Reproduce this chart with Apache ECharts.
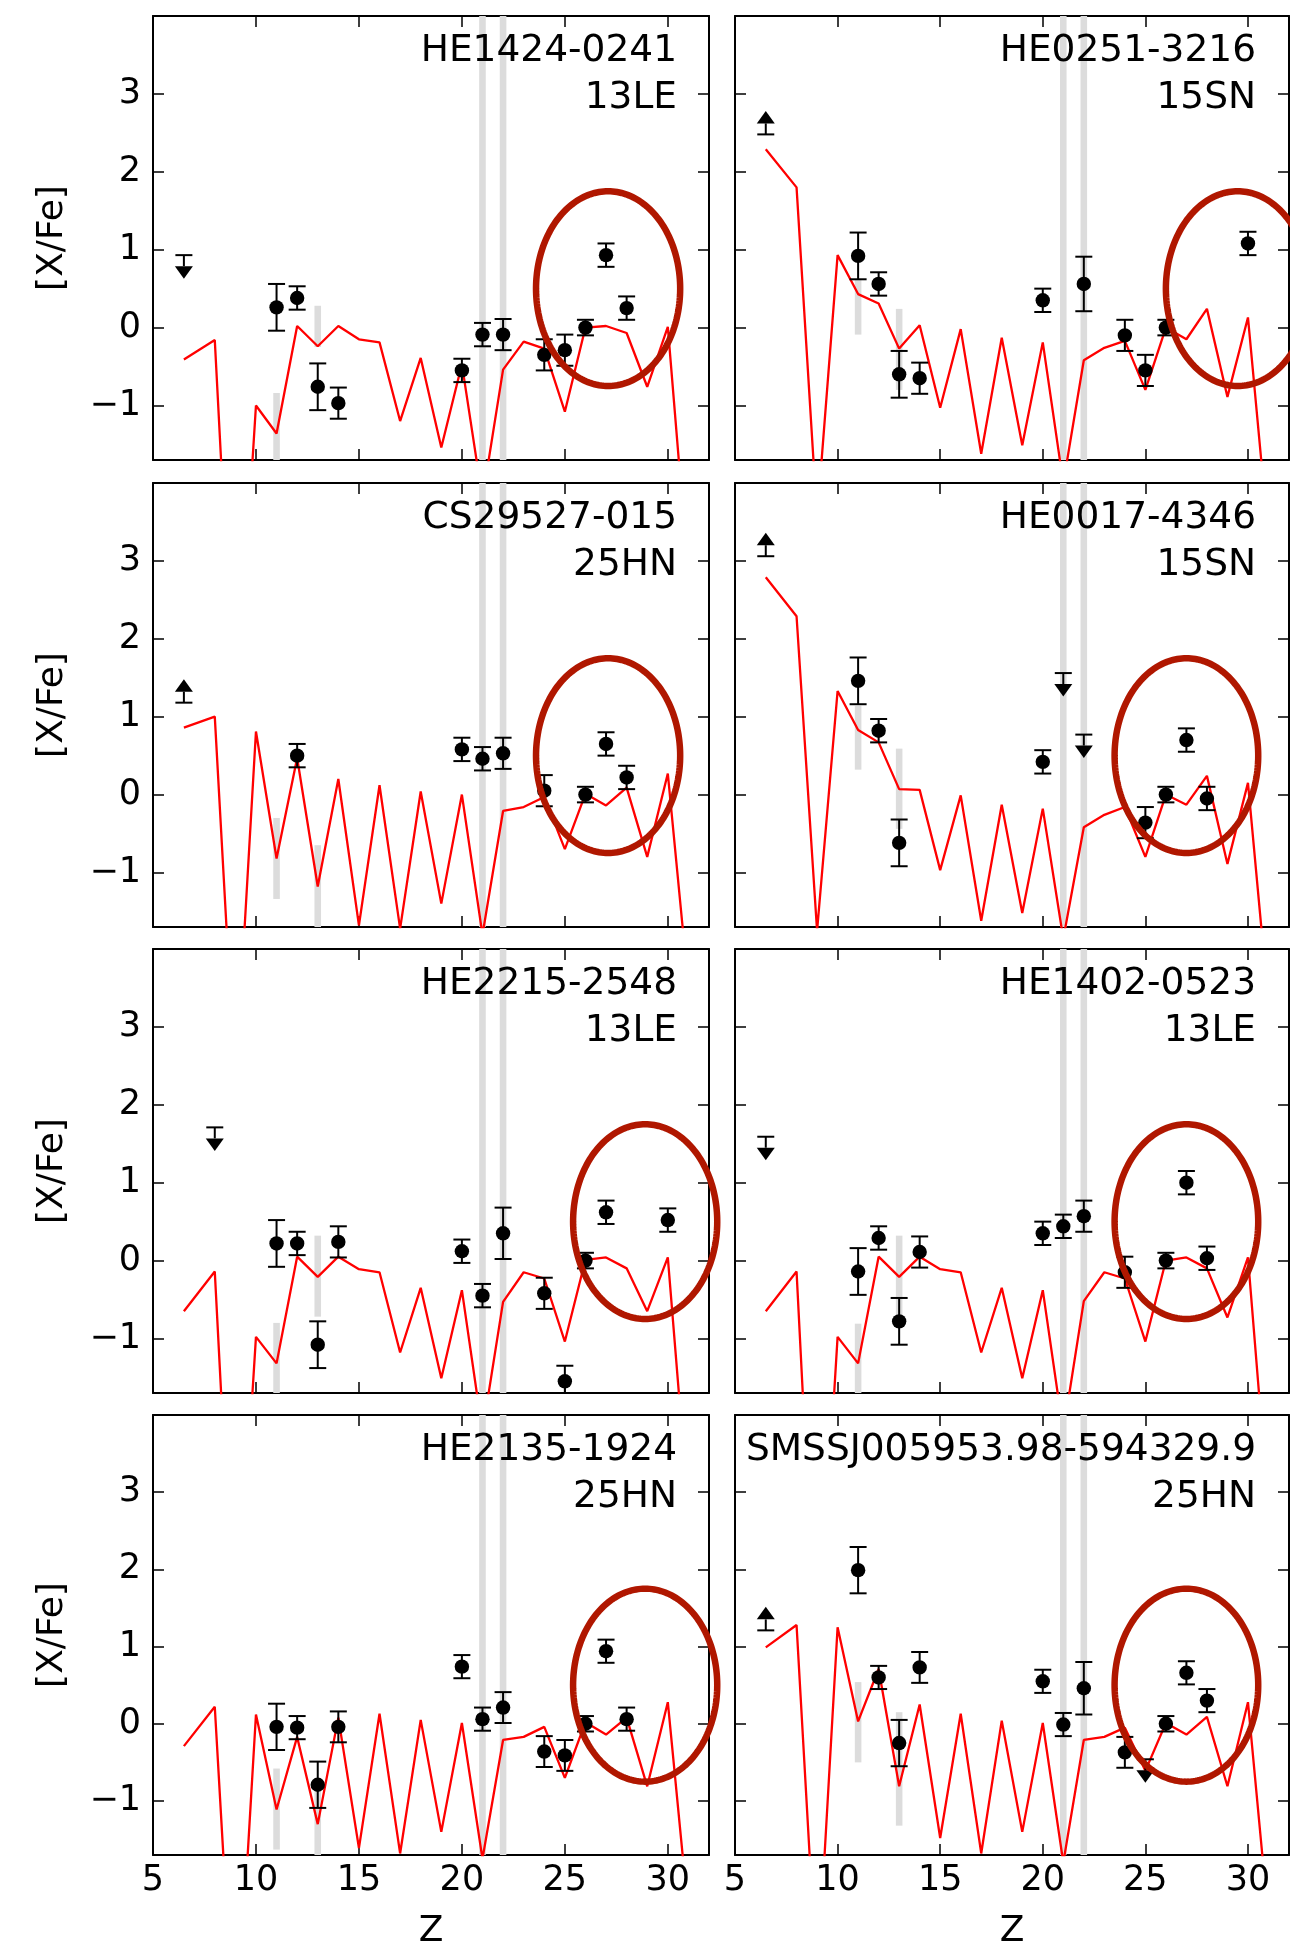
<!DOCTYPE html>
<html><head><meta charset="utf-8">
<script src="https://cdn.jsdelivr.net/npm/echarts@6/dist/echarts.min.js"></script>
<style>html,body{margin:0;padding:0;background:#fff}#c{width:1290px;height:1951px}</style>
</head><body><div id="c"></div>
<script>
// ---------- DATA ----------
const xTicks = [10, 15, 20, 25, 30];
const xTickLabels = [5, 10, 15, 20, 25, 30];
const yTicks = [-1, 0, 1, 2, 3];
const fullBandZ = [21, 22];
const modelZ = [6.5, 8, 9, 10, 11, 12, 13, 14, 15, 16, 17, 18, 19, 20, 21, 22, 23, 24, 25, 26, 27, 28, 29, 30, 31];

const starNames = ['HE1424-0241', 'HE0251-3216', 'CS29527-015', 'HE0017-4346', 'HE2215-2548', 'HE1402-0523', 'HE2135-1924', 'SMSSJ005953.98-594329.9'];
const modelNames = ['13LE', '15SN', '25HN', '15SN', '13LE', '13LE', '25HN', '25HN'];

const model1 = [-0.41, -0.16, -5.2, -1.0, -1.36, 0.02, -0.24, 0.02, -0.15, -0.19, -1.2, -0.39, -1.54, -0.47, -2.2, -0.54, -0.18, -0.27, -1.08, 0.0, 0.02, -0.07, -0.76, 0.01, -3.2];
const model2 = [2.29, 1.80, -2.45, 0.93, 0.43, 0.31, -0.27, 0.03, -1.03, -0.02, -1.62, -0.13, -1.51, -0.19, -2.0, -0.42, -0.26, -0.17, -0.80, 0.0, -0.15, 0.24, -0.89, 0.13, -2.7];
const model3 = [0.86, 1.00, -3.75, 0.81, -0.82, 0.47, -1.18, 0.20, -1.68, 0.12, -1.72, 0.04, -1.40, 0.0, -1.8, -0.21, -0.16, -0.03, -0.70, 0.01, -0.14, 0.09, -0.80, 0.27, -2.47];
const model4 = [2.79, 2.29, -1.75, 1.33, 0.83, 0.67, 0.07, 0.06, -0.97, -0.01, -1.62, -0.13, -1.52, -0.18, -1.85, -0.42, -0.26, -0.16, -0.80, 0.0, -0.13, 0.24, -0.89, 0.15, -2.7];
const model5 = [-0.65, -0.14, -5.2, -0.98, -1.32, 0.05, -0.21, 0.05, -0.11, -0.15, -1.18, -0.35, -1.51, -0.38, -2.2, -0.53, -0.15, -0.23, -1.04, 0.01, 0.04, -0.10, -0.65, 0.04, -3.2];
const model6 = [-0.65, -0.14, -5.3, -0.98, -1.32, 0.05, -0.21, 0.05, -0.11, -0.15, -1.18, -0.35, -1.51, -0.38, -2.2, -0.52, -0.15, -0.23, -1.04, 0.0, 0.04, -0.10, -0.73, 0.04, -3.2];
const model7 = [-0.29, 0.22, -4.4, 0.12, -1.11, -0.17, -1.30, 0.08, -1.61, 0.13, -1.68, 0.05, -1.40, 0.01, -1.75, -0.21, -0.17, -0.04, -0.70, 0.02, -0.14, 0.08, -0.81, 0.28, -2.47];
const model8 = [0.99, 1.28, -3.4, 1.25, 0.03, 0.71, -0.81, 0.25, -1.48, 0.13, -1.68, 0.04, -1.40, 0.01, -1.8, -0.21, -0.17, -0.05, -0.61, 0.01, -0.14, 0.09, -0.81, 0.28, -2.55];

// observations: [Z, [X/Fe], error]
const obs1 = [[11,0.26,0.3],[12,0.38,0.15],[13,-0.76,0.3],[14,-0.97,0.2],[20,-0.55,0.15],[21,-0.09,0.15],[22,-0.09,0.2],[24,-0.35,0.2],[25,-0.29,0.2],[26,0,0.1],[27,0.93,0.15],[28,0.25,0.15]];
const obs2 = [[11,0.92,0.3],[12,0.56,0.15],[13,-0.60,0.3],[14,-0.65,0.2],[20,0.35,0.15],[22,0.56,0.35],[24,-0.10,0.2],[25,-0.55,0.2],[26,0,0.1],[30,1.08,0.15]];
const obs3 = [[12,0.50,0.15],[20,0.58,0.15],[21,0.46,0.15],[22,0.53,0.2],[24,0.05,0.2],[26,0,0.1],[27,0.65,0.15],[28,0.22,0.15]];
const obs4 = [[11,1.46,0.3],[12,0.82,0.15],[13,-0.62,0.3],[20,0.42,0.15],[25,-0.36,0.2],[26,0,0.1],[27,0.70,0.15],[28,-0.05,0.15]];
const obs5 = [[11,0.22,0.3],[12,0.22,0.15],[13,-1.08,0.3],[14,0.24,0.2],[20,0.12,0.15],[21,-0.45,0.15],[22,0.35,0.33],[24,-0.42,0.2],[25,-1.55,0.2],[26,0,0.1],[27,0.62,0.15],[30,0.52,0.15]];
const obs6 = [[11,-0.14,0.3],[12,0.29,0.15],[13,-0.78,0.3],[14,0.11,0.2],[20,0.35,0.15],[21,0.44,0.15],[22,0.57,0.2],[24,-0.15,0.2],[26,0,0.1],[27,1.0,0.15],[28,0.03,0.15]];
const obs7 = [[11,-0.04,0.3],[12,-0.05,0.15],[13,-0.79,0.3],[14,-0.04,0.2],[20,0.74,0.15],[21,0.06,0.15],[22,0.21,0.2],[24,-0.36,0.2],[25,-0.41,0.2],[26,0,0.1],[27,0.94,0.15],[28,0.06,0.15]];
const obs8 = [[11,1.99,0.3],[12,0.60,0.15],[13,-0.25,0.3],[14,0.73,0.2],[20,0.55,0.15],[21,-0.01,0.15],[22,0.46,0.34],[24,-0.37,0.2],[26,0,0.1],[27,0.66,0.15],[28,0.30,0.15]];

// limits: [Z, value, direction (+1 lower limit / arrow up, -1 upper limit / arrow down)]
const lim1 = [[6.5,0.93,-1]];
const lim2 = [[6.5,2.48,1]];
const lim3 = [[6.5,1.18,1]];
const lim4 = [[6.5,3.06,1],[21,1.56,-1],[22,0.77,-1]];
const lim5 = [[8,1.71,-1]];
const lim6 = [[6.5,1.59,-1]];
const lim7 = [];
const lim8 = [[6.5,1.21,1],[25,-0.46,-1]];

// model ranges (grey bars): [Z, low, high]
const range1 = [[11,-2,-0.84],[13,-0.25,0.28]];
const range2 = [[11,-0.09,0.61],[13,-0.80,0.24]];
const range3 = [[11,-1.34,-0.30],[13,-2,-0.65]];
const range4 = [[11,0.32,1.14],[13,-0.44,0.59]];
const range5 = [[11,-2,-0.80],[13,-0.72,0.32]];
const range6 = [[11,-2,-0.81],[13,-0.72,0.32]];
const range7 = [[11,-1.63,-0.58],[13,-2,-0.75]];
const range8 = [[11,-0.50,0.54],[13,-1.32,0.15]];

// highlight ellipses: [centre Z, centre [X/Fe], half-width in Z, half-height in dex]
const ellipseCZ = [27.1, 29.5, 27.1, 27.0, 28.9, 27.0, 28.9, 27.0];
const ellipseCY = [0.5, 0.5, 0.5, 0.5, 0.5, 0.5, 0.5, 0.5];
const ellipseRX = 3.5;
const ellipseRY = 1.25;

// ---------- CHART ----------
const models = [model1, model2, model3, model4, model5, model6, model7, model8];
const obsAll = [obs1, obs2, obs3, obs4, obs5, obs6, obs7, obs8];
const limAll = [lim1, lim2, lim3, lim4, lim5, lim6, lim7, lim8];
const rangeAll = [range1, range2, range3, range4, range5, range6, range7, range8];

const FONT = 'DejaVu Sans';
const X_MIN = 5, X_MAX = 32, Y_MIN = -1.7, Y_MAX = 4;
const gridLeft = [153, 735];
const gridWidth = [556, 554];
const gridTop = [16, 483, 949, 1415];
const gridHeight = 444;
const BAND_HALF = 0.16;

const chart = echarts.init(document.getElementById('c'), null, {renderer: 'canvas'});

const grids = [], xAxes = [], yAxes = [], series = [], labels = [];
const minusFmt = v => (v < 0 ? '\u2212' + Math.abs(v) : String(v));

for (let i = 0; i < 8; i++) {
  const row = Math.floor(i / 2), col = i % 2;
  grids.push({left: gridLeft[col], top: gridTop[row], width: gridWidth[col], height: gridHeight, containLabel: false});
  const lineSt = {color: '#000', width: 2};
  const tickSt = {color: '#000', width: 1.5};
  const bottomRow = row === 3;
  xAxes.push({
    gridIndex: i, type: 'value', min: X_MIN, max: X_MAX, position: 'bottom',
    axisLine: {show: true, onZero: false, lineStyle: lineSt},
    axisTick: {show: true, inside: true, length: 11, lineStyle: tickSt, customValues: xTicks},
    axisLabel: {show: bottomRow, customValues: xTickLabels, fontSize: 35, fontFamily: FONT, color: '#000', margin: 8},
    splitLine: {show: false},
    name: bottomRow ? 'Z' : '', nameLocation: 'middle', nameGap: 59,
    nameTextStyle: {fontSize: 36, fontFamily: FONT, color: '#000'}
  });
  xAxes.push({
    gridIndex: i, type: 'value', min: X_MIN, max: X_MAX, position: 'top',
    axisLine: {show: true, onZero: false, lineStyle: lineSt},
    axisTick: {show: true, inside: true, length: 11, lineStyle: tickSt, customValues: xTicks},
    axisLabel: {show: false}, splitLine: {show: false}
  });
  const leftCol = col === 0;
  yAxes.push({
    gridIndex: i, type: 'value', min: Y_MIN, max: Y_MAX, position: 'left',
    axisLine: {show: true, onZero: false, lineStyle: lineSt},
    axisTick: {show: true, inside: true, length: 11, lineStyle: tickSt, customValues: yTicks},
    axisLabel: {show: leftCol, customValues: yTicks, formatter: minusFmt, fontSize: 35, fontFamily: FONT, color: '#000', margin: 12},
    splitLine: {show: false},
    name: leftCol ? '[X/Fe]' : '', nameLocation: 'middle', nameGap: 82, nameRotate: 90,
    nameTextStyle: {fontSize: 36, fontFamily: FONT, color: '#000'}
  });
  yAxes.push({
    gridIndex: i, type: 'value', min: Y_MIN, max: Y_MAX, position: 'right',
    axisLine: {show: true, onZero: false, lineStyle: lineSt},
    axisTick: {show: true, inside: true, length: 11, lineStyle: tickSt, customValues: yTicks},
    axisLabel: {show: false}, splitLine: {show: false}
  });

  const xi = 2 * i, yi = 2 * i;

  // full-height grey bands
  series.push({
    type: 'custom', xAxisIndex: xi, yAxisIndex: yi, clip: true, z: 1, silent: true,
    data: fullBandZ.map(z => [z]),
    renderItem(params, api) {
      const z = api.value(0);
      const p1 = api.coord([z - BAND_HALF, Y_MAX]);
      const p2 = api.coord([z + BAND_HALF, Y_MIN]);
      return {type: 'rect', shape: {x: p1[0], y: p1[1], width: p2[0] - p1[0], height: p2[1] - p1[1]}, style: {fill: '#dcdcdc'}};
    }
  });
  // model range bars
  series.push({
    type: 'custom', xAxisIndex: xi, yAxisIndex: yi, clip: true, z: 1, silent: true,
    data: rangeAll[i],
    renderItem(params, api) {
      const z = api.value(0), lo = api.value(1), hi = api.value(2);
      const p1 = api.coord([z - BAND_HALF, hi]);
      const p2 = api.coord([z + BAND_HALF, lo]);
      return {type: 'rect', shape: {x: p1[0], y: p1[1], width: p2[0] - p1[0], height: p2[1] - p1[1]}, style: {fill: '#dcdcdc'}};
    }
  });
  // model line
  series.push({
    type: 'line', xAxisIndex: xi, yAxisIndex: yi, z: 2, clip: true, silent: true,
    data: modelZ.map((z, k) => [z, models[i][k]]),
    symbol: 'none', lineStyle: {color: '#ff0000', width: 2.3}
  });
  // observations with error bars
  series.push({
    type: 'custom', xAxisIndex: xi, yAxisIndex: yi, clip: true, z: 3, silent: true,
    data: obsAll[i],
    renderItem(params, api) {
      const z = api.value(0), v = api.value(1), e = api.value(2);
      const c = api.coord([z, v]);
      const t = api.coord([z, v + e]);
      const b = api.coord([z, v - e]);
      const cw = 8.5;
      const st = {stroke: '#000', lineWidth: 2};
      return {type: 'group', children: [
        {type: 'line', shape: {x1: t[0], y1: t[1], x2: b[0], y2: b[1]}, style: st},
        {type: 'line', shape: {x1: t[0] - cw, y1: t[1], x2: t[0] + cw, y2: t[1]}, style: st},
        {type: 'line', shape: {x1: b[0] - cw, y1: b[1], x2: b[0] + cw, y2: b[1]}, style: st},
        {type: 'circle', shape: {cx: c[0], cy: c[1], r: 7.2}, style: {fill: '#000'}}
      ]};
    }
  });
  // limits (arrows)
  series.push({
    type: 'custom', xAxisIndex: xi, yAxisIndex: yi, clip: true, z: 3, silent: true,
    data: limAll[i],
    renderItem(params, api) {
      const z = api.value(0), v = api.value(1), d = api.value(2);
      const c = api.coord([z, v]);
      const cw = 8.5, stem = 11, head = 12.5, hw = 9;
      const st = {stroke: '#000', lineWidth: 2};
      const yb = c[1] - d * stem, yt = c[1] - d * (stem + head);
      return {type: 'group', children: [
        {type: 'line', shape: {x1: c[0] - cw, y1: c[1], x2: c[0] + cw, y2: c[1]}, style: st},
        {type: 'line', shape: {x1: c[0], y1: c[1], x2: c[0], y2: yb}, style: st},
        {type: 'polygon', shape: {points: [[c[0] - hw, yb], [c[0] + hw, yb], [c[0], yt]]}, style: {fill: '#000'}}
      ]};
    }
  });
  // highlight ellipse
  series.push({
    type: 'custom', xAxisIndex: xi, yAxisIndex: yi, clip: false, z: 4, silent: true,
    data: [[ellipseCZ[i], ellipseCY[i], ellipseRX, ellipseRY]],
    renderItem(params, api) {
      const c = api.coord([api.value(0), api.value(1)]);
      const s = api.size([api.value(2), api.value(3)]);
      const pts = [];
      for (let k = 0; k < 200; k++) {
        const a = k / 200 * 2 * Math.PI;
        pts.push([c[0] + s[0] * Math.cos(a), c[1] + s[1] * Math.sin(a)]);
      }
      return {type: 'polygon', shape: {points: pts}, style: {fill: 'none', stroke: '#b01700', lineWidth: 6.5}};
    }
  });

  labels.push({
    type: 'text',
    x: col === 0 ? 677 : 1256,
    y: gridTop[row] + 12,
    silent: true,
    z: 10,
    style: {
      text: starNames[i] + '\n' + modelNames[i],
      align: 'right', verticalAlign: 'top',
      fontSize: 37.5, fontFamily: FONT, fill: '#000', lineHeight: 47
    }
  });
}

chart.setOption({
  animation: false,
  backgroundColor: '#fff',
  graphic: labels,
  grid: grids,
  xAxis: xAxes,
  yAxis: yAxes,
  series: series
});
</script>
</body></html>
